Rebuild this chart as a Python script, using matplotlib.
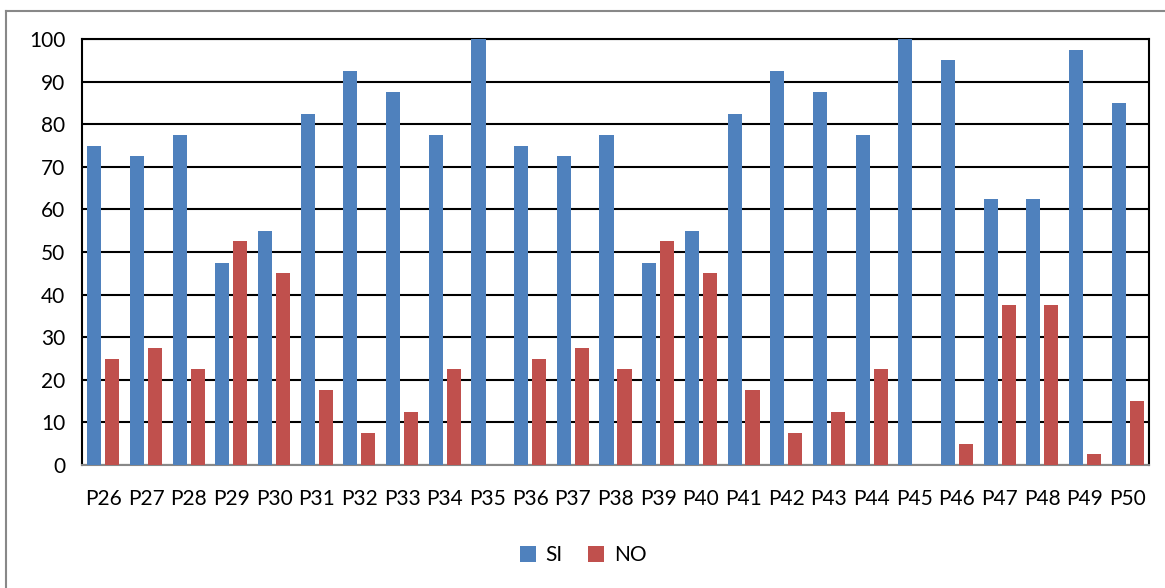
import matplotlib
matplotlib.use("Agg")
import matplotlib.pyplot as plt
import numpy as np
from matplotlib.lines import Line2D

categories = ["P26", "P27", "P28", "P29", "P30", "P31", "P32", "P33", "P34", "P35",
              "P36", "P37", "P38", "P39", "P40", "P41", "P42", "P43", "P44", "P45",
              "P46", "P47", "P48", "P49", "P50"]
si_values = [75, 72.5, 77.5, 47.5, 55, 82.5, 92.5, 87.5, 77.5, 100,
             75, 72.5, 77.5, 47.5, 55, 82.5, 92.5, 87.5, 77.5, 100,
             95, 62.5, 62.5, 97.5, 85]
no_values = [25, 27.5, 22.5, 52.5, 45, 17.5, 7.5, 12.5, 22.5, 0,
             25, 27.5, 22.5, 52.5, 45, 17.5, 7.5, 12.5, 22.5, 0,
             5, 37.5, 37.5, 2.5, 15]
y_ticks = [0, 10, 20, 30, 40, 50, 60, 70, 80, 90, 100]

plt.rcParams['font.family'] = ['Lato', 'DejaVu Sans']

W, H = 1165, 588
fig = plt.figure(figsize=(W / 100, H / 100), dpi=100)
ax = fig.add_axes([82 / W, 1 - 465 / H, (1149 - 82) / W, (465 - 39) / H])

x = np.arange(len(categories))
bw = 0.33
ax.bar(x - 0.21, si_values, bw, color="#4F81BD", label="SI", zorder=3)
ax.bar(x + 0.21, no_values, bw, color="#C0504D", label="NO", zorder=3)

ax.set_xlim(-0.5, len(categories) - 0.5)
ax.set_ylim(0, 100)
ax.set_yticks(y_ticks)
ax.set_yticklabels([str(v) for v in y_ticks], fontsize=15)
ax.set_xticks(x)
ax.set_xticklabels(categories, fontsize=15)
ax.tick_params(axis="both", length=0)
ax.tick_params(axis="x", pad=17)
ax.tick_params(axis="y", pad=12)
ax.grid(axis="y", color="black", linewidth=1.5, zorder=0)
for s in ["left", "top", "right"]:
    ax.spines[s].set_color("black")
    ax.spines[s].set_linewidth(1.5)
ax.spines["bottom"].set_color("#888888")
ax.spines["bottom"].set_linewidth(1.5)

fig.legend(loc="center", bbox_to_anchor=(583 / W, 1 - 555 / H), ncol=2, frameon=False,
           fontsize=15, handlelength=0.8, handleheight=0.8, handletextpad=0.45, columnspacing=1.2)

# outer chart border (only left and top visible in the reference)
fig.add_artist(Line2D([6 / W, 6 / W], [0, 1 - 11 / H], transform=fig.transFigure,
                      color="#888888", linewidth=1.5))
fig.add_artist(Line2D([6 / W, 1], [1 - 11 / H, 1 - 11 / H], transform=fig.transFigure,
                      color="#888888", linewidth=1.5))

fig.savefig("out.png", dpi=100)
